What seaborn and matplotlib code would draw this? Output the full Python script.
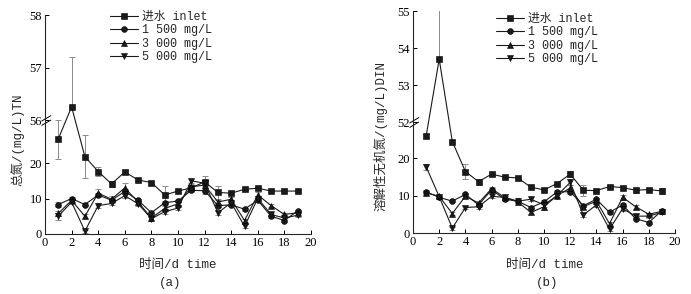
import numpy as np
import pandas as pd
import matplotlib
matplotlib.use('Agg')
import matplotlib.pyplot as plt
import seaborn as sns

days = list(range(1, 20))
series_names = ['进水 inlet', '1 500 mg/L', '3 000 mg/L', '5 000 mg/L']

# Panel (a) total nitrogen
tn_inlet = [26.8, 56.25, 21.8, 17.6, 14.1, 17.5, 15.2, 14.5, 11.0, 12.1, 13.0, 14.7, 11.7, 11.5, 12.6, 12.9, 12.1, 12.1, 12.1]
tn_1500 = [8.3, 10.0, 8.3, 11.0, 9.5, 12.0, 9.5, 6.0, 8.8, 9.3, 12.3, 12.2, 8.0, 8.2, 7.0, 9.5, 5.0, 3.8, 6.5]
tn_3000 = [5.8, 9.5, 5.0, 11.5, 9.8, 13.0, 9.0, 4.5, 7.2, 8.5, 13.3, 13.8, 9.0, 9.8, 3.8, 11.0, 8.0, 5.5, 6.0]
tn_5000 = [5.0, 9.0, 0.8, 8.0, 8.6, 10.8, 8.5, 4.3, 6.3, 7.3, 15.0, 14.3, 6.0, 8.8, 2.2, 10.0, 5.5, 4.5, 5.3]
tn_inlet_err = [5.7, 0.95, 6.0, 1.4, 0.8, 0.6, 0.3, 0.3, 2.4, 0.3, 0.8, 1.6, 1.8, 0.3, 0.3, 0.4, 0.3, 0.3, 0.3]
tn_1500_err = [0.6, 0.4, 0.4, 0.6, 0.5, 0.6, 0.4, 0.4, 0.5, 0.4, 0.6, 0.8, 0.5, 0.4, 0.4, 0.5, 0.4, 0.4, 0.4]
tn_3000_err = [0.8, 0.5, 0.5, 1.2, 1.0, 1.3, 0.5, 0.5, 0.6, 0.5, 0.8, 1.0, 0.6, 0.5, 0.5, 0.8, 0.4, 0.5, 0.5]
tn_5000_err = [1.0, 0.5, 0.4, 0.6, 0.5, 0.6, 0.5, 0.5, 0.6, 0.5, 0.6, 0.8, 0.6, 0.5, 0.5, 0.6, 0.5, 0.5, 0.5]

# Panel (b) dissolved inorganic nitrogen
din_inlet = [25.8, 53.7, 24.4, 16.4, 13.7, 15.7, 14.9, 14.7, 12.2, 11.5, 13.2, 15.7, 11.4, 11.3, 12.4, 12.1, 11.4, 11.6, 11.2]
din_1500 = [11.0, 9.5, 8.5, 10.3, 7.5, 11.5, 9.0, 8.5, 6.8, 8.3, 11.0, 11.0, 7.3, 9.0, 5.5, 7.5, 3.8, 2.8, 6.0]
din_3000 = [10.7, 9.8, 5.2, 9.8, 8.0, 11.8, 9.5, 8.3, 5.5, 7.0, 10.0, 12.0, 7.0, 8.5, 2.5, 9.5, 7.0, 5.0, 5.8]
din_5000 = [17.7, 9.7, 1.3, 6.8, 7.0, 9.8, 9.5, 8.5, 9.0, 7.5, 10.0, 13.5, 4.8, 7.5, 1.0, 6.5, 4.5, 4.5, 5.5]
din_inlet_err = [0.5, 1.5, 0.5, 2.0, 0.8, 0.4, 0.3, 0.3, 0.3, 0.3, 0.4, 0.8, 1.5, 0.3, 0.3, 0.4, 0.7, 0.4, 0.7]
din_1500_err = [0.5, 0.4, 0.3, 0.4, 0.5, 0.4, 0.4, 0.4, 0.5, 0.5, 0.5, 0.6, 0.4, 0.4, 0.3, 0.5, 0.4, 0.3, 0.4]
din_3000_err = [0.6, 0.4, 0.4, 0.5, 0.6, 0.5, 0.4, 0.4, 0.5, 0.8, 0.6, 0.8, 0.5, 0.5, 0.4, 0.6, 0.5, 0.4, 0.5]
din_5000_err = [0.8, 0.4, 0.4, 0.5, 0.5, 0.5, 0.4, 0.4, 0.5, 0.5, 0.5, 0.8, 0.5, 0.5, 0.4, 0.5, 0.5, 0.4, 0.5]

sns.set_theme(style='ticks')
plt.rcParams['font.family'] = ['Liberation Serif', 'Noto Sans CJK SC']
plt.rcParams['axes.linewidth'] = 0.8
MONO = ['Liberation Mono', 'Noto Sans CJK SC']

fig = plt.figure(figsize=(6.91, 2.94), dpi=100)


def make_scale(B, lo, k):
    def fwd(y):
        y = np.asarray(y, dtype=float)
        return np.where(y <= B, y, np.where(y < lo, B, B + (y - lo) * k))

    def inv(t):
        t = np.asarray(t, dtype=float)
        return np.where(t <= B, t, lo + (t - B) / k)
    return fwd, inv


markers = ['s', 'o', '^', 'v']


def panel(rect, data, errs, B, lo, hi, k, yticks, legend_anchor):
    ax = fig.add_axes(rect)
    fwd, inv = make_scale(B, lo, k)
    ax.set_yscale('function', functions=(fwd, inv))
    for name, vals, err, m in zip(series_names, data, errs, markers):
        vals = np.asarray(vals, float)
        err = np.asarray(err, float)
        lo_err = np.where(vals > lo, np.minimum(err, 0.0), err)
        ax.errorbar(days, vals, yerr=[lo_err, err], fmt='none', ecolor='#8a8a8a',
                    elinewidth=0.7, capsize=2, capthick=0.7, zorder=1)
        sns.lineplot(x=days, y=vals, ax=ax, marker=m, color='#1a1a1a', linewidth=0.8,
                     markersize=4.2, markeredgewidth=0.4, markeredgecolor='black',
                     label=name, zorder=3)
    ax.set_xlim(0, 20)
    ax.set_ylim(0, hi)
    ax.set_xticks(range(0, 21, 2))
    ax.set_yticks(yticks)
    ax.set_yticklabels([str(v) for v in yticks])
    ax.minorticks_off()
    ax.tick_params(direction='in', length=3, width=0.7, labelsize=9, pad=2, colors='black')
    for s in ['top', 'right']:
        ax.spines[s].set_visible(False)
    ax.set_xlabel('')
    ax.set_ylabel('')
    # break marks on the left spine
    yf = B / fwd(hi)
    for dy in (-0.012, 0.008):
        ax.plot([-0.012, 0.022], [yf + dy - 0.012, yf + dy + 0.012], transform=ax.transAxes,
                color='black', lw=0.7, clip_on=False)
    h, l = ax.get_legend_handles_labels()
    ax.legend(h, l, loc='upper left', bbox_to_anchor=legend_anchor, bbox_transform=fig.transFigure,
              frameon=False, prop={'family': MONO, 'size': 8.5}, handlelength=2.4,
              handletextpad=0.3, labelspacing=0.12, borderpad=0, borderaxespad=0)
    return ax


# panel (a)
B_a = 32.1
panel([45 / 691, 1 - 234 / 294, 266 / 691, (234 - 15) / 294],
      [tn_inlet, tn_1500, tn_3000, tn_5000],
      [tn_inlet_err, tn_1500_err, tn_3000_err, tn_5000_err],
      B_a, 56, 58, 14.8, [0, 10, 20, 56, 57, 58], (110 / 691, 1 - 11 / 294))

# panel (b)
B_b = 29.6
panel([413 / 691, 1 - 233 / 294, 262 / 691, (233 - 11) / 294],
      [din_inlet, din_1500, din_3000, din_5000],
      [din_inlet_err, din_1500_err, din_3000_err, din_5000_err],
      B_b, 52, 55, 9.87, [0, 10, 20, 52, 53, 54, 55], (496 / 691, 1 - 13 / 294))

fig.text(17 / 691, 1 - 140 / 294, '总氮/(mg/L)TN', rotation=90, ha='center', va='center',
         family=MONO, fontsize=9)
fig.text(381 / 691, 1 - 136 / 294, '溶解性无机氮/(mg/L)DIN', rotation=90, ha='center', va='center',
         family=MONO, fontsize=9)
fig.text(178 / 691, 1 - 265 / 294, '时间/d time', ha='center', va='center', family=MONO, fontsize=9)
fig.text(545 / 691, 1 - 265 / 294, '时间/d time', ha='center', va='center', family=MONO, fontsize=9)
fig.text(170 / 691, 1 - 283 / 294, '(a)', ha='center', va='center', family=MONO, fontsize=9)
fig.text(547 / 691, 1 - 283 / 294, '(b)', ha='center', va='center', family=MONO, fontsize=9)

fig.savefig('out.png', dpi=100)
